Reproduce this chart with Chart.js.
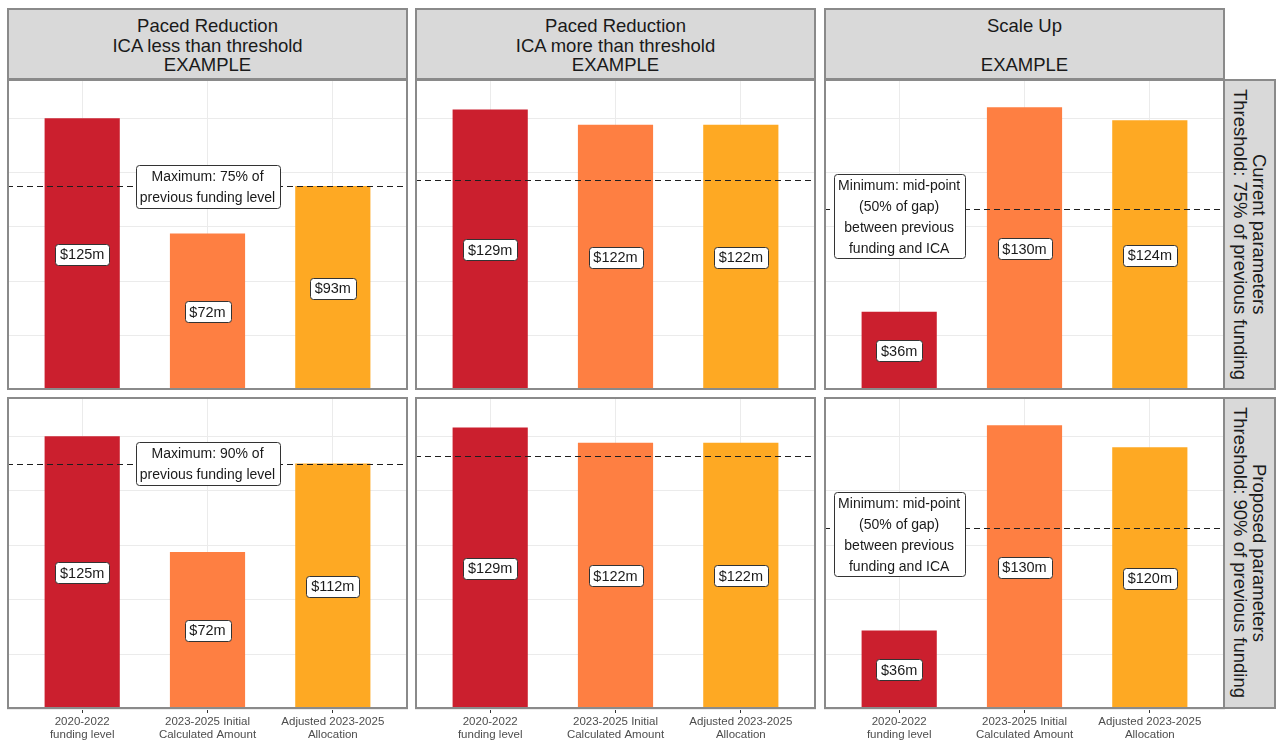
<!DOCTYPE html>
<html><head><meta charset="utf-8">
<script src="https://cdn.jsdelivr.net/npm/chart.js@4.4.1/dist/chart.umd.min.js"></script>
<style>
html,body{margin:0;padding:0;background:#fff;}
#fig{position:relative;width:1276px;height:742px;overflow:hidden;font-family:"Liberation Sans",Arial,sans-serif;background:#fff;}
.strip{position:absolute;box-sizing:border-box;background:#d9d9d9;border:2px solid #8a8a8a;color:#1a1a1a;font-size:18.5px;line-height:19.5px;display:flex;align-items:center;justify-content:center;text-align:center;white-space:nowrap;}
.rstrip{writing-mode:vertical-rl;}
.panel{position:absolute;}
.panel canvas{display:block;}
.frame{position:absolute;box-sizing:border-box;border:2px solid #8a8a8a;pointer-events:none;}
</style></head>
<body><div id="fig"></div>
<script>
// ---------- data ----------
const categories = [["2020-2022","funding level"],["2023-2025 Initial","Calculated Amount"],["Adjusted 2023-2025","Allocation"]];
const colTitles = [["Paced Reduction","ICA less than threshold","EXAMPLE"],["Paced Reduction","ICA more than threshold","EXAMPLE"],["Scale Up","","EXAMPLE"]];
const rowTitles = [["Current parameters","Threshold: 75% of previous funding"],["Proposed parameters","Threshold: 90% of previous funding"]];

const currentLess  = [125, 72, 93.75];
const currentMore  = [129, 122, 122];
const currentScale = [36, 130, 124];
const proposedLess  = [125, 72, 112.5];
const proposedMore  = [129, 122, 122];
const proposedScale = [36, 130, 120];

const currentThresholds  = [93.75, 96.75, 83];
const proposedThresholds = [112.5, 116.1, 83];

const maxNote75 = ["Maximum: 75% of","previous funding level"];
const maxNote90 = ["Maximum: 90% of","previous funding level"];
const minNote   = ["Minimum: mid-point","(50% of gap)","between previous","funding and ICA"];
const noteCategory = [1, null, 0];   // category index the note is centred on
const noteLevelMid = 80;             // mid-point note sits slightly below the line

const gridValues = [0, 25, 50, 75, 100, 125];
const barColors = ["#cb1f2e", "#fe7f42", "#fea923"];

// ---------- layout ----------
const FONT = '"Liberation Sans", Arial, sans-serif';
const colLeft = [7, 415, 824], colW = 401;
const rowTop = [79, 397], rowH = [311, 312];
const stripTop = 8, stripH = 72, axisH = 36;
const Y_MAX = 143;

const fig = document.getElementById('fig');

function rr(ctx, x, y, w, h, r){
  ctx.beginPath();
  ctx.moveTo(x+r, y); ctx.lineTo(x+w-r, y); ctx.quadraticCurveTo(x+w, y, x+w, y+r);
  ctx.lineTo(x+w, y+h-r); ctx.quadraticCurveTo(x+w, y+h, x+w-r, y+h);
  ctx.lineTo(x+r, y+h); ctx.quadraticCurveTo(x, y+h, x, y+h-r);
  ctx.lineTo(x, y+r); ctx.quadraticCurveTo(x, y, x+r, y);
  ctx.closePath();
}

const overlay = {
  id: 'overlay',
  afterDatasetsDraw(chart, args, opts){
    const ctx = chart.ctx, a = chart.chartArea, xs = chart.scales.x, ys = chart.scales.y;
    ctx.save();
    ctx.beginPath(); ctx.rect(a.left, a.top, a.right-a.left, a.bottom-a.top); ctx.clip();
    // threshold line
    const ly = Math.round(ys.getPixelForValue(opts.threshold)) + 0.5;
    ctx.setLineDash([6, 4]); ctx.strokeStyle = '#1f1f1f'; ctx.lineWidth = 1.1;
    ctx.beginPath(); ctx.moveTo(a.left, ly); ctx.lineTo(a.right, ly); ctx.stroke();
    ctx.setLineDash([]);
    ctx.textAlign = 'center'; ctx.textBaseline = 'middle';
    // note box
    if (opts.note){
      ctx.font = '14px ' + FONT;
      const cx = xs.getPixelForValue(opts.noteX), cy = ys.getPixelForValue(opts.noteY);
      const lh = 20.8;
      let tw = 0; opts.note.forEach(t => { tw = Math.max(tw, ctx.measureText(t).width); });
      const w = Math.round(tw + 9), h = Math.round(opts.note.length*lh + 1);
      const bx = Math.round(cx - w/2) + 0.5, by = Math.round(cy - h/2) + 0.5;
      rr(ctx, bx, by, w, h, 3);
      ctx.fillStyle = '#fff'; ctx.fill();
      ctx.strokeStyle = '#333'; ctx.lineWidth = 1; ctx.stroke();
      ctx.fillStyle = '#1a1a1a';
      opts.note.forEach((t, i) => ctx.fillText(t, cx, by + lh*(i+0.5) + 1.5));
    }
    // value labels
    ctx.font = '14.5px ' + FONT;
    opts.values.forEach((v, i) => {
      const txt = '$' + Math.floor(v) + 'm';
      const cx = xs.getPixelForValue(i), cy = ys.getPixelForValue(v/2);
      const w = Math.round(ctx.measureText(txt).width + 10), h = 21;
      const bx = Math.round(cx - w/2) + 0.5, by = Math.round(cy - h/2) + 0.5;
      rr(ctx, bx, by, w, h, 3);
      ctx.fillStyle = '#fff'; ctx.fill();
      ctx.strokeStyle = '#333'; ctx.lineWidth = 1; ctx.stroke();
      ctx.fillStyle = '#1a1a1a';
      ctx.fillText(txt, cx, cy + 1);
    });
    ctx.restore();
  }
};

function makePanel(r, c, values, threshold, note, noteY){
  const bottom = r === 1;
  const div = document.createElement('div');
  div.className = 'panel';
  const H = rowH[r] + (bottom ? axisH : 0);
  div.style.left = colLeft[c] + 'px'; div.style.top = rowTop[r] + 'px';
  const cv = document.createElement('canvas');
  cv.width = colW; cv.height = H;
  cv.style.width = colW + 'px'; cv.style.height = H + 'px';
  div.appendChild(cv); fig.appendChild(div);
  const frame = document.createElement('div');
  frame.className = 'frame';
  frame.style.left = colLeft[c] + 'px'; frame.style.top = rowTop[r] + 'px';
  frame.style.width = colW + 'px'; frame.style.height = rowH[r] + 'px';
  fig.appendChild(frame);

  new Chart(cv, {
    type: 'bar',
    data: { datasets: [{
      data: values.map((v, i) => ({x: i, y: v})),
      backgroundColor: barColors, borderWidth: 0,
      barPercentage: 0.6, categoryPercentage: 1
    }]},
    options: {
      responsive: false, animation: false, events: [],
      layout: { padding: 0 },
      plugins: { legend: {display: false}, tooltip: {enabled: false}, title: {display: false},
        overlay: { threshold, values, note, noteX: noteCategory[c], noteY } },
      scales: {
        x: {
          type: 'linear', min: -0.6, max: 2.6, offset: false,
          grid: { color: '#ebebeb', lineWidth: 1, offset: false, drawTicks: bottom, tickLength: 4, tickColor: '#333', tickWidth: 1 },
          border: { display: false },
          ticks: { display: bottom, autoSkip: false, maxRotation: 0, minRotation: 0, padding: 3, color: '#4d4d4d',
                   font: { family: FONT, size: 11.5, lineHeight: 1.1 },
                   callback: (v) => categories[v] },
          afterBuildTicks: s => { s.ticks = categories.map((_, i) => ({value: i})); },
          afterFit: s => { s.height = bottom ? axisH : 0; }
        },
        y: {
          min: 0, max: Y_MAX,
          grid: { color: '#ebebeb', lineWidth: 1, drawTicks: false },
          border: { display: false },
          ticks: { display: false },
          afterBuildTicks: s => { s.ticks = gridValues.map(v => ({value: v})); },
          afterFit: s => { s.width = 0; }
        }
      }
    },
    plugins: [overlay]
  });
}

// strips
colTitles.forEach((lines, c) => {
  const s = document.createElement('div');
  s.className = 'strip';
  s.style.left = colLeft[c] + 'px'; s.style.top = stripTop + 'px';
  s.style.width = colW + 'px'; s.style.height = stripH + 'px';
  s.style.paddingTop = '3px';
  s.innerHTML = lines.map(t => t === '' ? '&nbsp;' : t).join('<br>');
  fig.appendChild(s);
});
rowTitles.forEach((lines, r) => {
  const s = document.createElement('div');
  s.className = 'strip rstrip';
  s.style.left = '1223px'; s.style.top = rowTop[r] + 'px';
  s.style.width = '53px'; s.style.height = rowH[r] + 'px';
  s.innerHTML = lines.join('<br>');
  fig.appendChild(s);
});

makePanel(0, 0, currentLess,  currentThresholds[0],  maxNote75, currentThresholds[0]);
makePanel(0, 1, currentMore,  currentThresholds[1],  null, null);
makePanel(0, 2, currentScale, currentThresholds[2],  minNote, noteLevelMid);
makePanel(1, 0, proposedLess,  proposedThresholds[0], maxNote90, proposedThresholds[0]);
makePanel(1, 1, proposedMore,  proposedThresholds[1], null, null);
makePanel(1, 2, proposedScale, proposedThresholds[2], minNote, noteLevelMid);
</script>
</body></html>
